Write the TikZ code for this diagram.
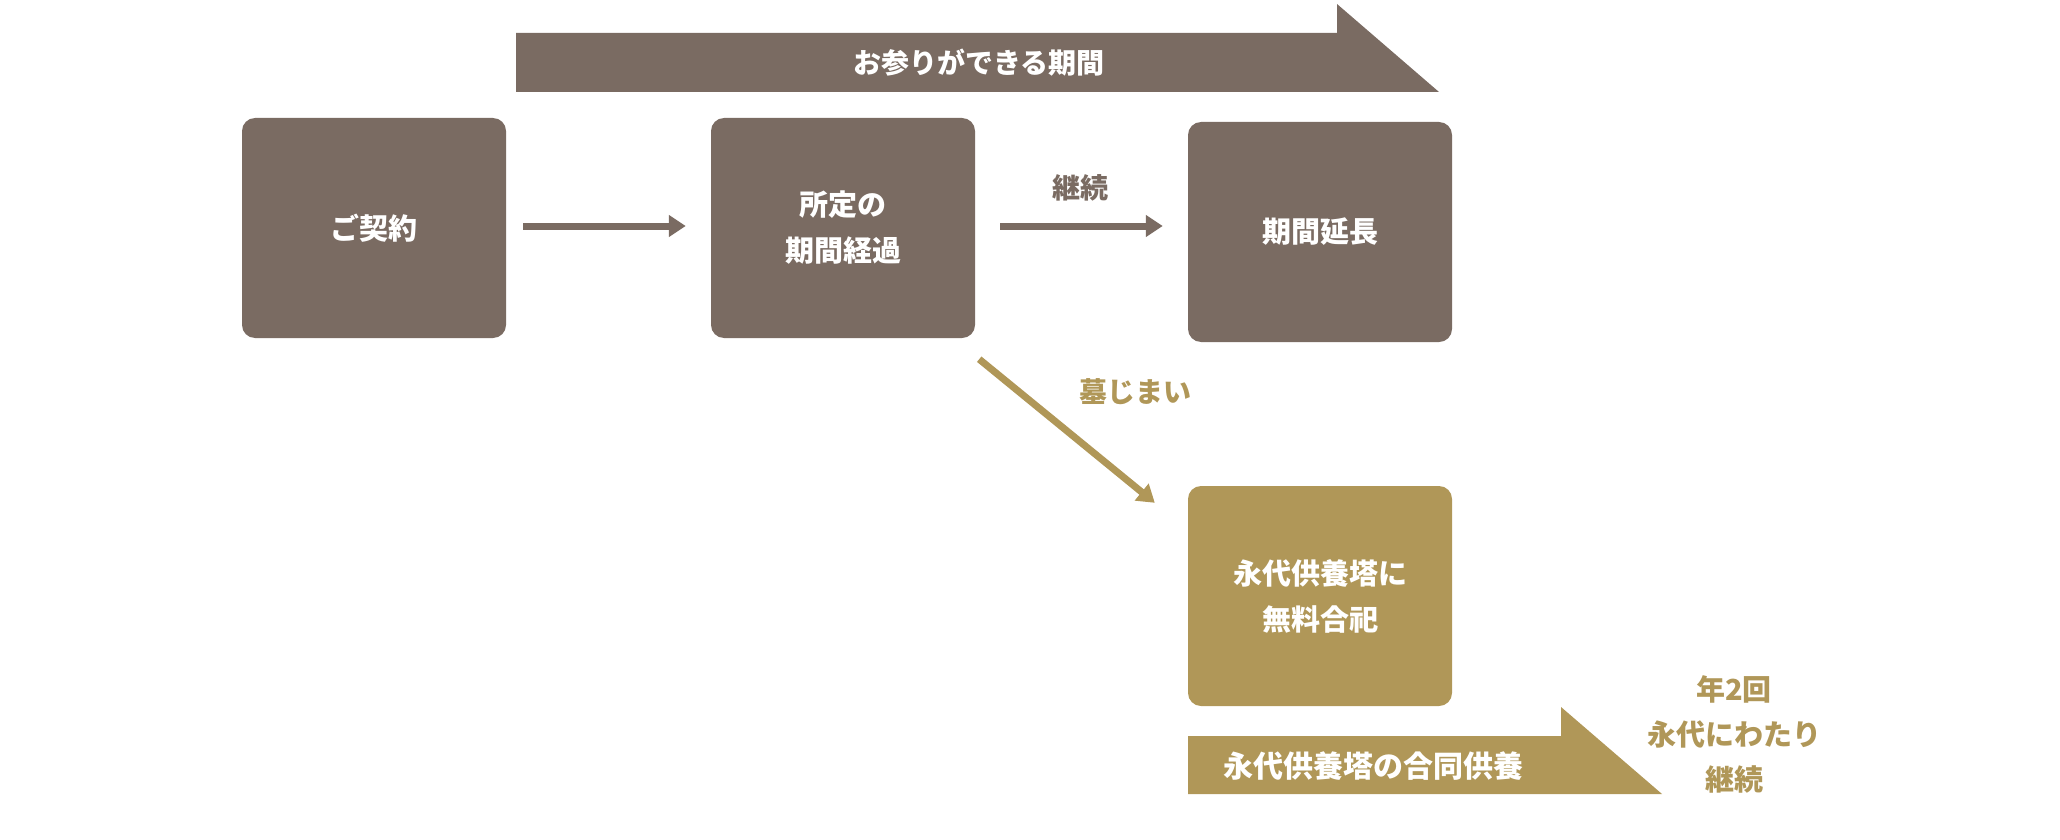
\documentclass[tikz,border=0pt]{standalone}
\usepackage{fontspec}
\newfontfamily\cjk{Noto Sans CJK JP}
\usetikzlibrary{arrows.meta,calc}
\definecolor{brn}{HTML}{7A6B62}
\definecolor{gld}{HTML}{B09758}
\begin{document}
\begin{tikzpicture}[x=1pt,y=-1pt,
  box/.style={rounded corners=13pt, minimum width=264pt, minimum height=220pt, inner sep=0pt,
    text=white, font=\cjk\bfseries\fontsize{29}{46}\selectfont, align=center},
  brownbox/.style={box, fill=brn},
  goldbox/.style={box, fill=gld},
  conn/.style={line width=7pt, -{Triangle[length=17pt,width=21pt]}},
  bandtext/.style={text=white, font=\cjk\bfseries\fontsize{28}{40}\selectfont},
  lbl/.style={font=\cjk\bfseries\fontsize{28}{40}\selectfont},
]
\useasboundingbox (0,0) rectangle (2060,840);

% top band arrow
\fill[brn] (516,33) -- (1337,33) -- (1337,4) -- (1439,92) -- (516,92) -- cycle;
\node[bandtext] (toptext) at (979,63) {お参りができる期間};

% boxes
\node[brownbox] (contract) at (374,228) {ご契約};
\node[brownbox] (elapsed) at (843,228) {所定の\\期間経過};
\node[brownbox] (extend) at (1320,232) {期間延長};
\node[goldbox] (joint) at (1320,596) {永代供養塔に\\無料合祀};

% connectors
\draw[conn, brn, shorten <=17pt, shorten >=25pt] (contract.east |- 0,226) -- (elapsed.west |- 0,226);
\draw[conn, brn, shorten <=25pt, shorten >=25pt] (elapsed.east |- 0,226) -- (extend.west |- 0,226);
\node[lbl, text=brn] (keizoku) at (1080,188) {継続};

\draw[conn, gld] ($(elapsed.south east)+(4,21)$) -- ($(joint.north west)+(-33,17)$);
\node[lbl, text=gld] (hakajimai) at (1135,392) {墓じまい};

% bottom band arrow
\fill[gld] (1188,736) -- (1561,736) -- (1561,707) -- (1662,794) -- (1188,794) -- cycle;
\node[bandtext, font=\cjk\bfseries\fontsize{30}{40}\selectfont] (bottomtext) at (1373,766) {永代供養塔の合同供養};

\node[text=gld, font=\cjk\bfseries\fontsize{29}{45}\selectfont, align=center] (yearly) at (1734,734) {年2回\\永代にわたり\\継続};
\end{tikzpicture}
\end{document}
